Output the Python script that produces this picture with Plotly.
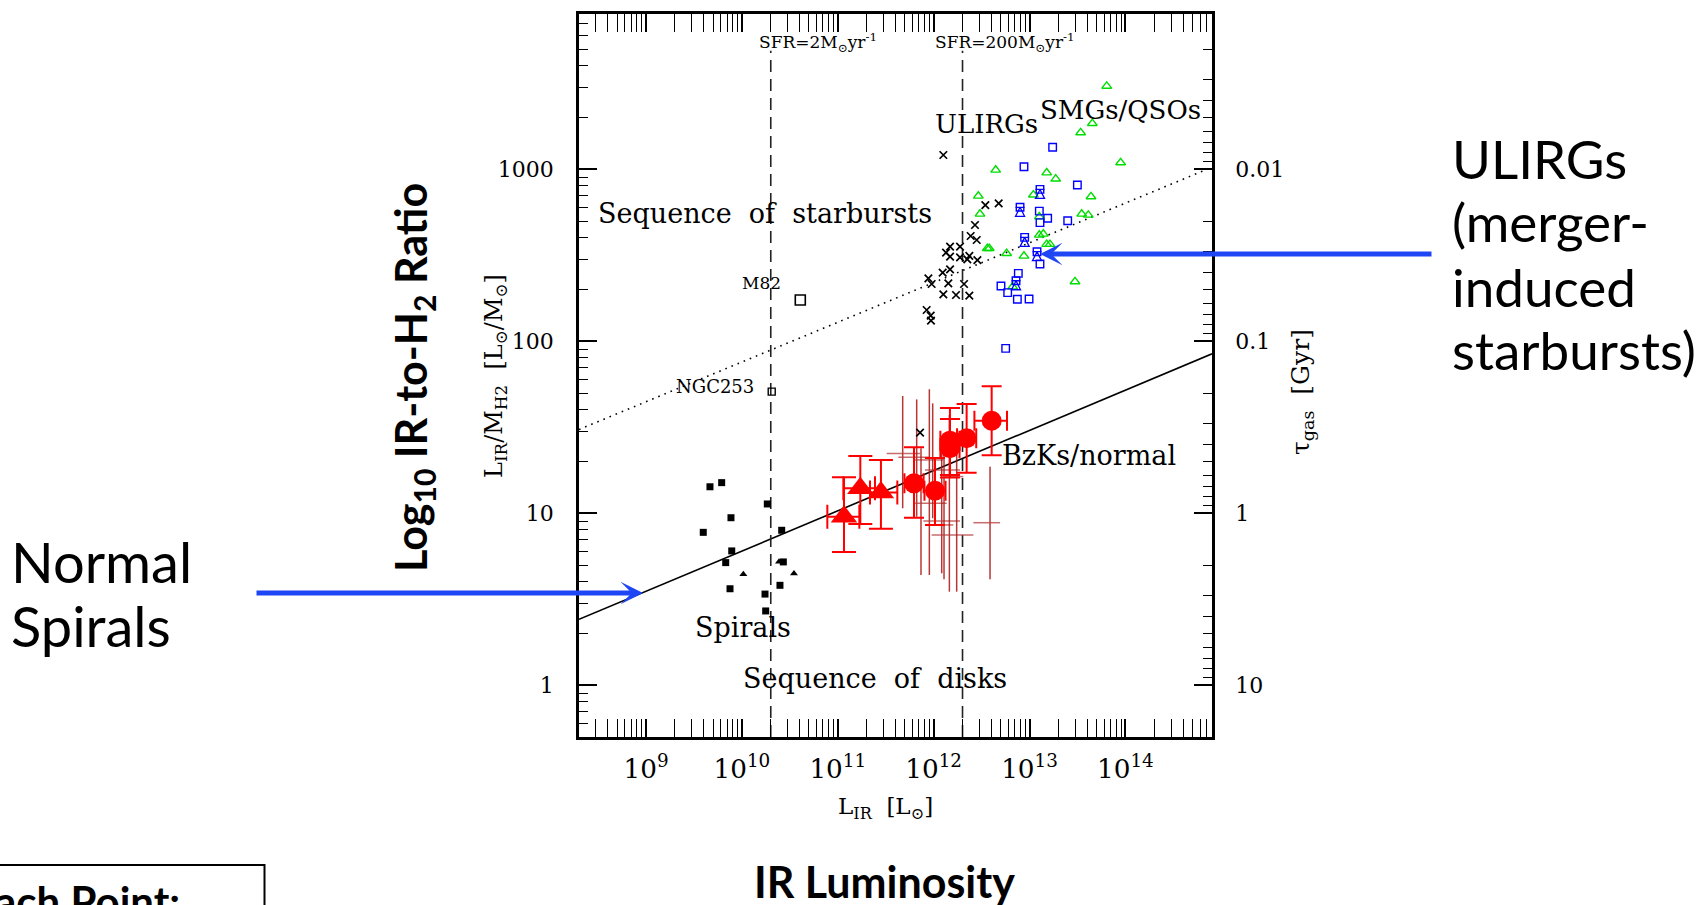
import plotly.graph_objects as go

# ------------------------------------------------------------------
# DATA  (log10 values)
# ------------------------------------------------------------------
# x: log10 L_IR [Lsun]     y: log10 L_IR/M_H2 [Lsun/Msun]
x_range_log = [8.301, 14.903]
y_range_log = [-0.301, 3.903]

# local spirals (black filled squares)
spiral_logL = [9.667, 9.789, 10.265, 9.886, 9.597, 10.415, 9.894, 9.831, 10.432, 9.876, 10.241, 10.397, 10.248]
spiral_logR = [1.154, 1.178, 1.054, 0.974, 0.889, 0.901, 0.781, 0.713, 0.717, 0.561, 0.530, 0.581, 0.432]
# black filled small triangles
spiral_tri_logL = [10.015, 10.387, 10.543]
spiral_tri_logR = [0.645, 0.718, 0.649]

# BzK galaxies, red filled triangles with error bars
bzk_tri_logL = [11.065, 11.235, 11.450]
bzk_tri_logR = [0.980, 1.145, 1.120]
bzk_tri_xlo = [10.891, 11.058, 11.336]
bzk_tri_xhi = [11.225, 11.388, 11.621]
bzk_tri_ylo = [0.775, 0.938, 0.910]
bzk_tri_yhi = [1.209, 1.333, 1.310]

# BzK galaxies, red filled circles with error bars
bzk_cir_logL = [11.795, 12.014, 12.170, 12.170, 12.344, 12.605]
bzk_cir_logR = [1.174, 1.131, 1.422, 1.378, 1.436, 1.538]
bzk_cir_xlo = [11.695, 11.904, 12.070, 12.070, 12.244, 12.425]
bzk_cir_xhi = [11.895, 12.124, 12.270, 12.270, 12.444, 12.765]
bzk_cir_ylo = [0.974, 0.932, 1.222, 1.208, 1.236, 1.338]
bzk_cir_yhi = [1.384, 1.321, 1.612, 1.548, 1.636, 1.738]

# other z~1-2 normal galaxies (thin dark-red crosses, no marker)
cross_logL = [11.677, 11.823, 11.955, 11.868, 11.990, 12.084, 12.108, 12.164, 12.240, 12.588]
cross_logR = [1.348, 1.325, 1.310, 1.058, 1.252, 0.955, 0.932, 0.874, 1.213, 0.945]
cross_xlo = [11.510, 11.632, 11.805, 11.788, 11.910, 11.892, 11.927, 11.979, 12.118, 12.414]
cross_xhi = [11.858, 11.962, 12.101, 12.136, 12.275, 12.275, 12.205, 12.414, 12.310, 12.692]
cross_ylo = [1.029, 0.980, 0.641, 0.641, 0.971, 0.651, 0.616, 0.544, 0.544, 0.616]
cross_yhi = [1.682, 1.662, 1.721, 1.378, 1.639, 1.378, 1.358, 1.571, 1.368, 1.271]

# ULIRGs (black x)
ulirg_logL = [12.101, 12.539, 12.678, 12.431, 12.386, 12.449, 12.171, 12.275, 12.129, 12.171, 12.275, 12.372,
              12.351, 12.456, 12.094, 12.171, 11.945, 11.979, 12.153, 12.317, 12.101, 12.233, 12.372, 11.927,
              11.969, 11.972, 11.858]
ulirg_logR = [3.083, 2.792, 2.802, 2.676, 2.612, 2.589, 2.550, 2.550, 2.515, 2.492, 2.488, 2.496,
              2.476, 2.472, 2.399, 2.418, 2.366, 2.333, 2.337, 2.333, 2.273, 2.269, 2.265, 2.182,
              2.149, 2.120, 1.469]

# SMGs (green open triangles)
smg_logL = [12.647, 12.466, 12.483, 12.560, 12.580, 12.761, 12.942, 12.824, 13.179, 13.273, 13.040, 13.102,
            13.102, 13.144, 13.179, 13.213, 13.805, 13.655, 13.533, 13.950, 13.641, 13.544, 13.613, 13.474]
smg_logR = [2.996, 2.845, 2.740, 2.540, 2.540, 2.511, 2.496, 2.317, 2.980, 2.944, 2.851, 2.724,
            2.618, 2.624, 2.564, 2.564, 3.484, 3.267, 3.213, 3.039, 2.841, 2.740, 2.734, 2.347]

# QSOs (blue open squares)
qso_logL = [13.241, 12.942, 13.102, 13.189, 13.109, 13.109, 12.883, 12.702, 12.772, 12.873, 12.995, 12.751,
            13.499, 13.398]
qso_logR = [3.128, 3.015, 2.757, 2.715, 2.690, 2.449, 2.395, 2.321, 2.283, 2.244, 2.246, 1.959,
            2.909, 2.701]
# QSO lower limits (blue squares with up arrows)
qso_lim_logL = [12.901, 12.949, 13.078, 13.109, 12.859]
qso_lim_logR = [2.779, 2.604, 2.521, 2.883, 2.352]

# local starbursts
m82_logL, m82_logR = [10.609], [2.240]
ngc253_logL, ngc253_logR = [10.311], [1.707]

# sequences
disk_seq_logL = [8.301, 14.903]
disk_seq_logR = [0.383, 1.927]
sb_seq_logL = [8.301, 14.903]
sb_seq_logR = [1.487, 3.012]

# SFR reference lines (SFR = 1e-10 L_IR), drawn up to just below their labels
sfr_values = [2, 200]
sfr_to_L = 1e10
sfr_line_logR = [-0.301, 3.69]

# tau_gas axis [Gyr]: tau = 10 / (L_IR/M_H2)
tau_factor = 10.0


# ------------------------------------------------------------------
def lin(v):
    return [10 ** a for a in v]


def err(c, lo, hi):
    plus = [10 ** h - 10 ** m for m, h in zip(c, hi)]
    minus = [10 ** m - 10 ** l for m, l in zip(c, lo)]
    return plus, minus


W, H = 1707, 905
L_PX, R_PX, T_PX, B_PX = 579, 1212, 14, 737


def px(xp):
    return (xp - L_PX) / (R_PX - L_PX)


def py(yp):
    return (B_PX - yp) / (B_PX - T_PX)


SERIF = "DejaVu Serif"
SANS = "Lato"
BLUE_ARROW = "#1e46f5"

fig = go.Figure()

# starburst sequence (dotted)
fig.add_trace(go.Scatter(x=lin(sb_seq_logL), y=lin(sb_seq_logR), mode="lines",
                         line=dict(color="black", width=1.6, dash="1.6px,5px"), hoverinfo="skip"))
# disk sequence (solid)
fig.add_trace(go.Scatter(x=lin(disk_seq_logL), y=lin(disk_seq_logR), mode="lines",
                         line=dict(color="black", width=1.6), hoverinfo="skip"))
# SFR dashed lines
for s in sfr_values:
    fig.add_trace(go.Scatter(x=[s * sfr_to_L, s * sfr_to_L], y=lin(sfr_line_logR), mode="lines",
                             line=dict(color="#222222", width=1.6, dash="12px,7px"), hoverinfo="skip"))

# thin dark-red crosses
ep, em = err(cross_logR, cross_ylo, cross_yhi)
xp_, xm_ = err(cross_logL, cross_xlo, cross_xhi)
fig.add_trace(go.Scatter(x=lin(cross_logL), y=lin(cross_logR), mode="markers",
                         marker=dict(size=1, color="rgba(0,0,0,0)"),
                         error_y=dict(type="data", symmetric=False, array=ep, arrayminus=em,
                                      color="rgba(170,20,20,0.85)", thickness=1.5, width=0),
                         error_x=dict(type="data", symmetric=False, array=xp_, arrayminus=xm_,
                                      color="rgba(180,60,60,0.75)", thickness=1.5, width=0)))

# BzK triangles
ep, em = err(bzk_tri_logR, bzk_tri_ylo, bzk_tri_yhi)
xp_, xm_ = err(bzk_tri_logL, bzk_tri_xlo, bzk_tri_xhi)
fig.add_trace(go.Scatter(x=lin(bzk_tri_logL), y=lin(bzk_tri_logR), mode="markers",
                         marker=dict(symbol="triangle-up", size=23, color="#ff0000"),
                         error_y=dict(type="data", symmetric=False, array=ep, arrayminus=em,
                                      color="#ff0000", thickness=2, width=12),
                         error_x=dict(type="data", symmetric=False, array=xp_, arrayminus=xm_,
                                      color="#ff0000", thickness=2, width=12)))
# BzK circles
ep, em = err(bzk_cir_logR, bzk_cir_ylo, bzk_cir_yhi)
xp_, xm_ = err(bzk_cir_logL, bzk_cir_xlo, bzk_cir_xhi)
fig.add_trace(go.Scatter(x=lin(bzk_cir_logL), y=lin(bzk_cir_logR), mode="markers",
                         marker=dict(symbol="circle", size=20, color="#ff0000"),
                         error_y=dict(type="data", symmetric=False, array=ep, arrayminus=em,
                                      color="#ff0000", thickness=2, width=10),
                         error_x=dict(type="data", symmetric=False, array=xp_, arrayminus=xm_,
                                      color="#ff0000", thickness=2, width=10)))

# spirals
fig.add_trace(go.Scatter(x=lin(spiral_logL), y=lin(spiral_logR), mode="markers",
                         marker=dict(symbol="square", size=7, color="black")))
fig.add_trace(go.Scatter(x=lin(spiral_tri_logL), y=lin(spiral_tri_logR), mode="markers",
                         marker=dict(symbol="triangle-up", size=7, color="black")))
# M82 / NGC253
fig.add_trace(go.Scatter(x=lin(m82_logL), y=lin(m82_logR), mode="markers",
                         marker=dict(symbol="square-open", size=10, color="black", line=dict(width=1.6))))
fig.add_trace(go.Scatter(x=lin(ngc253_logL), y=lin(ngc253_logR), mode="markers",
                         marker=dict(symbol="square-open", size=7, color="black", line=dict(width=1.4))))
# ULIRGs
fig.add_trace(go.Scatter(x=lin(ulirg_logL), y=lin(ulirg_logR), mode="markers",
                         marker=dict(symbol="x-thin-open", size=7.5, color="black", line=dict(width=1.7, color="black"))))
# SMGs
fig.add_trace(go.Scatter(x=lin(smg_logL), y=lin(smg_logR), mode="markers",
                         marker=dict(symbol="triangle-up-open", size=8.5, color="#00dd00", line=dict(width=1.4))))
# QSOs
fig.add_trace(go.Scatter(x=lin(qso_logL), y=lin(qso_logR), mode="markers",
                         marker=dict(symbol="square-open", size=7.5, color="#0000ff", line=dict(width=1.4))))
fig.add_trace(go.Scatter(x=lin(qso_lim_logL), y=lin(qso_lim_logR), mode="markers",
                         marker=dict(symbol="square-open", size=7.5, color="#0000ff", line=dict(width=1.4))))
fig.add_trace(go.Scatter(x=lin(qso_lim_logL), y=lin(qso_lim_logR), mode="markers",
                         marker=dict(symbol="arrow-bar-up-open", size=9, color="#0000ff", line=dict(width=1.3))))

# invisible trace carrying the tau axis
fig.add_trace(go.Scatter(x=[10 ** x_range_log[0]], y=[tau_factor / 10 ** y_range_log[0]], yaxis="y2",
                         mode="markers", marker=dict(opacity=0), hoverinfo="skip"))

tickfont = dict(family=SERIF, size=22, color="black")
common = dict(type="log", showgrid=False, zeroline=False, showline=True, linecolor="black", linewidth=2.5,
              ticks="inside", ticklen=18, tickwidth=1.5, tickcolor="black",
              minor=dict(ticks="inside", ticklen=9, tickwidth=1.3, tickcolor="black", dtick="D1"))

fig.update_layout(
    width=W, height=H, showlegend=False,
    plot_bgcolor="white", paper_bgcolor="white",
    margin=dict(l=L_PX, r=W - R_PX, t=T_PX, b=H - B_PX, pad=0),
    xaxis=dict(**common, range=x_range_log, dtick=1, exponentformat="power", mirror="allticks",
               tickfont=dict(family=SERIF, size=21, color="black"), ticklabelstandoff=8),
    yaxis=dict(**common, range=y_range_log, dtick=1, exponentformat="none", mirror=False,
               tickfont=tickfont, ticklabelstandoff=18),
    yaxis2=dict(**common, range=[1.30103, -2.90309], dtick=1, exponentformat="none", overlaying="y",
                side="right", tickfont=tickfont, ticklabelstandoff=16),
)

ann = []


def text(x, y, t, size, family=SERIF, xanchor="left", yanchor="middle", textangle=0, weight="normal"):
    ann.append(dict(x=px(x), y=py(y), xref="paper", yref="paper", text=t, showarrow=False,
                    xanchor=xanchor, yanchor=yanchor, textangle=textangle,
                    font=dict(family=family, size=size, color="black", weight=weight)))


# in-plot labels
text(757, 43, "SFR=2M<sub>⊙</sub>yr<sup>-1</sup>", 17)
text(933, 43, "SFR=200M<sub>⊙</sub>yr<sup>-1</sup>", 17)
text(933, 124, "ULIRGs", 26)
text(1038, 110, "SMGs/QSOs", 26)
text(596, 213, "Sequence  of  starbursts", 27)
text(783, 283, "M82", 17, xanchor="right")
text(756, 387, "NGC253", 18, xanchor="right")
text(1000, 455, "BzKs/normal", 27)
text(693, 627, "Spirals", 27)
text(741, 678, "Sequence  of  disks", 27)

# axis titles
text(885, 808, "L<sub>IR</sub>  [L<sub>⊙</sub>]", 23, xanchor="center")
text(495, 376, "L<sub>IR</sub>/M<sub>H2</sub>  [L<sub>⊙</sub>/M<sub>⊙</sub>]", 24, xanchor="center", textangle=-90)
text(1302, 392, "τ<sub>gas</sub>  [Gyr]", 25, xanchor="center", textangle=-90)

# presentation labels
text(413, 378, "Log<sub>10</sub> IR-to-H<sub>2</sub> Ratio", 43, family=SANS, xanchor="center",
     textangle=-90, weight="bold")
text(884, 881, "IR Luminosity", 43, family=SANS, xanchor="center", weight="bold")
text(9, 561, "Normal", 56, family=SANS)
text(9, 625, "Spirals", 56, family=SANS)
text(1450, 159, "ULIRGs", 53, family=SANS)
text(1450, 222, "(merger-", 53, family=SANS)
text(1450, 286, "induced", 53, family=SANS)
text(1450, 349, "starbursts)", 53, family=SANS)
text(182, 901, "Each Point:", 42, family=SANS, xanchor="right", weight="bold")

# blue arrows
ann.append(dict(x=px(643), y=py(593), xref="paper", yref="paper", ax=255 - 643, ay=0,
                axref="pixel", ayref="pixel", showarrow=True, arrowhead=3, arrowsize=0.75,
                arrowwidth=5, arrowcolor=BLUE_ARROW, text=""))
ann.append(dict(x=px(1040), y=py(254), xref="paper", yref="paper", ax=1433 - 1040, ay=0,
                axref="pixel", ayref="pixel", showarrow=True, arrowhead=3, arrowsize=0.75,
                arrowwidth=5, arrowcolor=BLUE_ARROW, text=""))

fig.update_layout(annotations=ann)

# partial box bottom-left
fig.add_shape(type="rect", xref="paper", yref="paper", x0=px(-10), x1=px(264.5), y0=py(930), y1=py(865),
              line=dict(color="black", width=2), fillcolor="rgba(0,0,0,0)", layer="above")

fig.write_html("out.html")
